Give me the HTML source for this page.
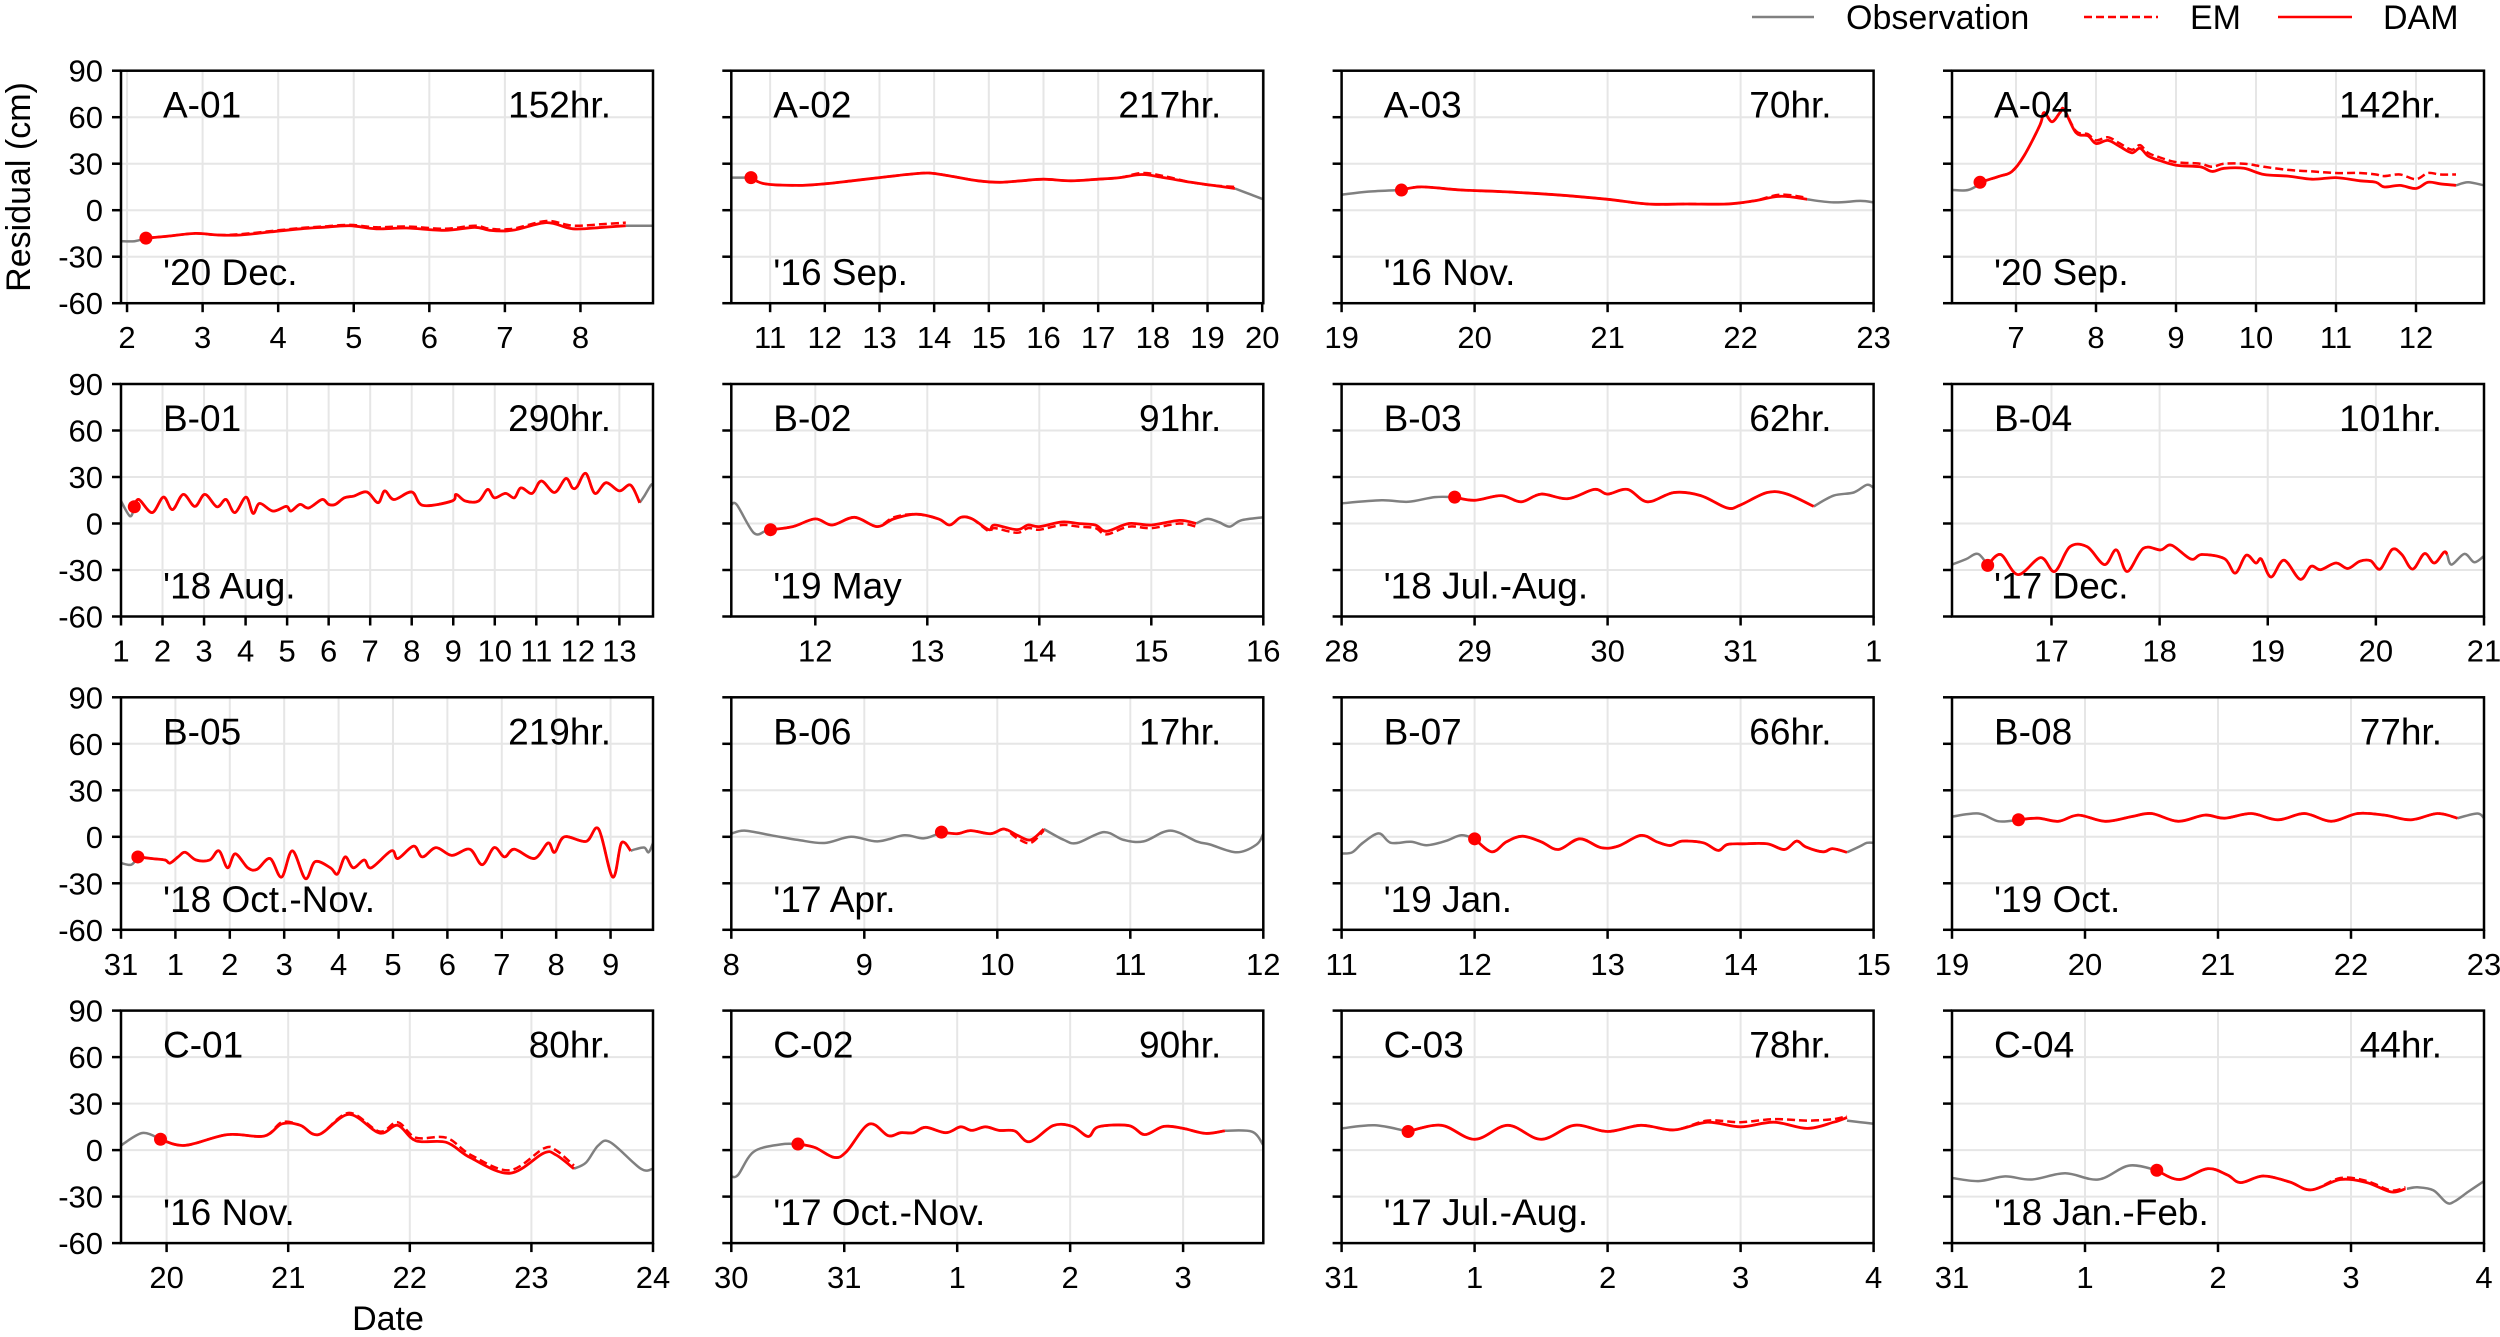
<!DOCTYPE html>
<html><head><meta charset="utf-8">
<style>
html,body{margin:0;padding:0;background:#fff;}
svg{display:block;font-family:"Liberation Sans","Noto Sans CJK KR",sans-serif;}
</style></head>
<body>
<svg id="fig" width="2500" height="1337" viewBox="0 0 2500 1337" xmlns="http://www.w3.org/2000/svg">
  <g>
    <line x1="1752" y1="17" x2="1814" y2="17" stroke="#808080" stroke-width="2.5"/>
    <text x="1846" y="29" font-size="34">Observation</text>
    <line x1="2084" y1="17" x2="2158" y2="17" stroke="#ff0000" stroke-width="2.5" stroke-dasharray="8,4"/>
    <text x="2190" y="29" font-size="34">EM</text>
    <line x1="2278" y1="17" x2="2352" y2="17" stroke="#ff0000" stroke-width="2.5"/>
    <text x="2383" y="29" font-size="34">DAM</text>
  </g>
  <text transform="translate(30,187) rotate(-90)" text-anchor="middle" font-size="34">Residual (cm)</text>
  <text x="388" y="1330" text-anchor="middle" font-size="34">Date</text>
</svg>
<script>
// ---------- data ----------
const panelNames = ["A-01","A-02","A-03","A-04","B-01","B-02","B-03","B-04","B-05","B-06","B-07","B-08","C-01","C-02","C-03","C-04"];
const hourLabels = ["152hr.","217hr.","70hr.","142hr.","290hr.","91hr.","62hr.","101hr.","219hr.","17hr.","66hr.","77hr.","80hr.","90hr.","78hr.","44hr."];
const periodLabels = ["'20 Dec.","'16 Sep.","'16 Nov.","'20 Sep.","'18 Aug.","'19 May","'18 Jul.-Aug.","'17 Dec.","'18 Oct.-Nov.","'17 Apr.","'19 Jan.","'19 Oct.","'16 Nov.","'17 Oct.-Nov.","'17 Jul.-Aug.","'18 Jan.-Feb."];
const xDomains = [[1.92,8.96],[10.29,20.02],[19,23],[6.2,12.85],[1,13.81],[11.25,16],[28,32],[16.08,21],[0,9.78],[8,12],[11,15],[19,23],[19.625,24],[0,4.71],[0,4],[0,4]];
const xTickValues = [[2,3,4,5,6,7,8],[11,12,13,14,15,16,17,18,19,20],[19,20,21,22,23],[7,8,9,10,11,12],[1,2,3,4,5,6,7,8,9,10,11,12,13],[12,13,14,15,16],[28,29,30,31,32],[17,18,19,20,21],[0,1,2,3,4,5,6,7,8,9],[8,9,10,11,12],[11,12,13,14,15],[19,20,21,22,23],[20,21,22,23,24],[0,1,2,3,4],[0,1,2,3,4],[0,1,2,3,4]];
const xTickLabels = [["2","3","4","5","6","7","8"],["11","12","13","14","15","16","17","18","19","20"],["19","20","21","22","23"],["7","8","9","10","11","12"],["1","2","3","4","5","6","7","8","9","10","11","12","13"],["12","13","14","15","16"],["28","29","30","31","1"],["17","18","19","20","21"],["31","1","2","3","4","5","6","7","8","9"],["8","9","10","11","12"],["11","12","13","14","15"],["19","20","21","22","23"],["20","21","22","23","24"],["30","31","1","2","3"],["31","1","2","3","4"],["31","1","2","3","4"]];
const yTickValues = [90,60,30,0,-30,-60];
const yTickLabels = ["90","60","30","0","-30","-60"];

const obsPre = [
 [[1.92,-20],[2.1,-20],[2.25,-18]],
 [[10.29,21],[10.5,21],[10.65,21]],
 [[19,10],[19.2,12],[19.45,13]],
 [[6.2,13],[6.4,13],[6.55,17]],
 [[1,14.5],[1.22,4.7],[1.32,10.8]],
 [[11.25,12],[11.3,12],[11.45,-6],[11.55,-5],[11.6,-4]],
 [[28,13],[28.3,15],[28.5,14],[28.7,17],[28.85,17]],
 [[16.08,-26.5],[16.21,-23],[16.32,-19.6],[16.41,-27]],
 [[0,-17],[0.19,-18],[0.31,-13]],
 [[8,2],[8.1,4],[8.3,1],[8.5,-2],[8.7,-4],[8.9,0],[9.1,-3],[9.3,1],[9.45,-1],[9.58,3]],
 [[11,-10.8],[11.08,-10],[11.16,-3.9],[11.28,2.2],[11.37,-3.9],[11.52,-3.2],[11.64,-5.4],[11.78,-2.8],[11.9,1],[12,-1.3]],
 [[19,13],[19.2,15],[19.35,10],[19.5,11]],
 [[19.625,3],[19.8,11],[19.95,7]],
 [[0,-17],[0.06,-16],[0.2,-1],[0.44,3.7],[0.59,3.9]],
 [[0,14],[0.25,16],[0.5,12]],
 [[0,-18],[0.2,-20],[0.4,-17],[0.6,-19],[0.85,-15],[1.1,-19],[1.33,-10],[1.54,-13]]
];
const obsPost = [
 [[8.6,-10],[8.75,-10],[8.96,-10]],
 [[19.5,14],[19.8,10],[20.02,7]],
 [[22.5,7],[22.7,5],[22.9,6],[23,5]],
 [[12.5,16],[12.65,18],[12.85,16]],
 [[13.49,13.4],[13.6,17.7],[13.76,24.8],[13.81,25]],
 [[15.4,0],[15.5,3],[15.6,1],[15.7,-2],[15.8,2],[16,4]],
 [[31.55,11],[31.7,18],[31.85,20],[31.95,25],[32,23]],
 [[20.66,-20],[20.7,-26.5],[20.82,-19.6],[20.91,-25],[21,-21]],
 [[9.37,-9],[9.46,-8],[9.62,-7],[9.7,-10],[9.78,-4]],
 [[10.35,5],[10.5,-2],[10.6,-4],[10.8,3],[10.95,-2],[11.1,-3],[11.3,4],[11.5,-3],[11.6,-5],[11.8,-10],[11.95,-5],[12,2]],
 [[14.8,-10],[14.9,-6],[14.95,-3.9],[15,-3.9]],
 [[22.8,12],[22.95,15],[23,12]],
 [[23.35,-12],[23.45,-8],[23.55,3],[23.65,5],[23.9,-12],[24,-12]],
 [[4.37,12.5],[4.61,11.9],[4.71,3.2]],
 [[3.8,19],[3.9,18],[4,17]],
 [[3.42,-25],[3.5,-24],[3.62,-26],[3.72,-34],[3.78,-33],[3.88,-27],[4,-20]]
];
const damSeries = [
 [[2.25,-18],[2.5,-17],[2.9,-15],[3.2,-16],[3.5,-16],[3.9,-14],[4.3,-12],[4.6,-11],[4.95,-10],[5.3,-12],[5.7,-11.5],[6.2,-13],[6.6,-11],[6.8,-13],[7.1,-13],[7.55,-8],[7.9,-12],[8.3,-11],[8.6,-10]],
 [[10.65,21],[10.9,17],[11.5,16],[12,17],[12.5,19],[13,21],[13.5,23],[13.9,24],[14.3,22],[14.8,19],[15.2,18],[15.6,19],[16,20],[16.5,19],[17,20],[17.4,21],[17.8,23],[18.2,21],[18.7,18],[19.1,16],[19.5,14]],
 [[19.45,13],[19.6,15],[19.9,13],[20.2,12],[20.6,10],[21,7],[21.3,4],[21.6,4],[21.9,4],[22.1,6],[22.3,9],[22.5,7]],
 [[6.55,18],[6.8,22],[6.95,25],[7.1,35],[7.3,55],[7.35,63],[7.45,57],[7.55,63],[7.6,65],[7.75,50],[7.9,48],[8.0,43],[8.15,45],[8.3,41],[8.45,37],[8.55,40],[8.65,35],[8.8,32],[9.0,29],[9.3,28],[9.45,25],[9.6,27],[9.85,27],[10.1,23],[10.4,22],[10.7,20],[11.0,21],[11.3,19],[11.5,18],[11.6,15],[11.8,16],[12.0,14],[12.15,18],[12.3,17],[12.5,16]],
 [[1.32,10.8],[1.43,15.5],[1.75,7],[2.02,17],[2.24,9],[2.5,18.8],[2.78,11],[3.02,18.8],[3.31,10.8],[3.53,15.5],[3.74,7],[4.01,17],[4.18,6.5],[4.34,13],[4.66,8],[4.98,11],[5.09,8],[5.31,12.3],[5.52,10],[5.84,15.5],[6.0,12.3],[6.16,12.3],[6.38,16.6],[6.6,17.7],[6.92,20.3],[7.19,13.4],[7.35,21],[7.57,15.5],[8.0,20.3],[8.27,11.7],[8.97,14.5],[9.07,18.8],[9.29,14.5],[9.61,14.5],[9.83,22],[9.99,16.6],[10.26,19.4],[10.47,16.6],[10.63,23],[10.9,19.4],[11.12,27.4],[11.44,20],[11.71,29],[11.87,23],[11.98,23.7],[12.19,32.4],[12.41,19.4],[12.68,26.3],[13.0,21],[13.27,24.8],[13.49,13.4]],
 [[11.6,-4],[11.8,-2],[12,3],[12.15,-1],[12.35,4],[12.55,-2],[12.7,3],[12.9,6],[13.1,3],[13.2,-1],[13.3,4],[13.4,3],[13.55,-4],[13.6,-1],[13.8,-4],[13.9,-1],[14.0,-2],[14.2,1],[14.35,0],[14.5,-1],[14.6,-5],[14.8,0],[15,-1],[15.25,2],[15.4,0]],
 [[28.85,17],[29,15],[29.2,18],[29.35,14],[29.5,19],[29.7,16],[29.9,22],[30.0,19],[30.15,22],[30.3,14],[30.5,20],[30.7,18],[30.9,10],[31.0,12],[31.2,20],[31.35,19],[31.55,11]],
 [[16.41,-27],[16.53,-20],[16.69,-33],[16.9,-22],[17.03,-31],[17.17,-15],[17.33,-15],[17.49,-26.5],[17.6,-17],[17.7,-31],[17.85,-16],[18.01,-17],[18.11,-14],[18.29,-23],[18.39,-20],[18.6,-22.7],[18.7,-32],[18.8,-20.5],[18.89,-25.5],[18.94,-23],[19.03,-34.5],[19.15,-23.7],[19.3,-36],[19.4,-27.6],[19.49,-29.8],[19.63,-25.5],[19.74,-29],[19.85,-24.4],[19.95,-24],[20.04,-29.4],[20.15,-16.8],[20.24,-20],[20.34,-29.4],[20.45,-19.4],[20.54,-25.5],[20.63,-18.5],[20.66,-20]],
 [[0.31,-13],[0.56,-14],[0.81,-15],[0.9,-17],[1.05,-13],[1.18,-10],[1.38,-15],[1.63,-15],[1.8,-9],[1.96,-20],[2.1,-11],[2.33,-20],[2.5,-21],[2.74,-14],[2.95,-26],[3.15,-9],[3.39,-27],[3.57,-16],[3.85,-20],[3.98,-24],[4.12,-13],[4.27,-20],[4.47,-15],[4.6,-20],[4.97,-9],[5.09,-14],[5.38,-6],[5.54,-13],[5.79,-7],[6.08,-12],[6.41,-8],[6.64,-18],[6.86,-7],[7.05,-13],[7.23,-8],[7.6,-14],[7.85,-4],[7.97,-10],[8.15,0],[8.55,-3],[8.78,5],[9.04,-26],[9.2,-4],[9.37,-9]],
 [[9.58,3],[9.7,2],[9.8,4],[9.95,2],[10.05,5],[10.15,1],[10.25,-2],[10.35,5]],
 [[12,-1.3],[12.13,-9.7],[12.24,-3.2],[12.36,0.4],[12.5,-3.2],[12.63,-8.2],[12.79,-1.3],[12.95,-7],[13.08,-6],[13.25,0.9],[13.37,-3.2],[13.47,-5.6],[13.56,-2.8],[13.72,-3.9],[13.83,-8.8],[13.9,-5],[14.03,-4.5],[14.2,-4.5],[14.33,-8.2],[14.42,-2.8],[14.49,-6.5],[14.62,-9.7],[14.69,-7.6],[14.8,-10]],
 [[19.5,11],[19.65,12],[19.8,10],[19.95,14],[20.15,10],[20.35,13],[20.5,15],[20.7,10],[20.9,14],[21.05,12],[21.25,15],[21.45,11],[21.65,15],[21.85,10],[22.05,15],[22.25,14],[22.45,11],[22.65,15],[22.8,12]],
 [[19.95,7],[20.15,3],[20.5,10],[20.8,9],[20.95,17],[21.1,16],[21.25,10],[21.5,23],[21.75,11],[21.9,16],[22.05,6],[22.3,5],[22.5,-5],[22.82,-15],[23.1,-2],[23.2,-3],[23.35,-12]],
 [[0.59,3.9],[0.74,1.7],[0.91,-4.7],[1.02,-1],[1.22,16.8],[1.39,9.3],[1.5,11.2],[1.61,11.2],[1.72,14.7],[1.9,11.2],[2.03,15],[2.13,12.7],[2.25,15],[2.37,12.7],[2.51,12.3],[2.64,5.4],[2.85,15.8],[3.02,15.3],[3.16,8.8],[3.25,15],[3.52,15.8],[3.66,10],[3.83,15.3],[4.0,14],[4.2,10.8],[4.37,12.5]],
 [[0.5,12],[0.75,16],[1,7],[1.25,16],[1.5,7],[1.75,16],[2,12],[2.25,16],[2.5,13],[2.75,18],[3,15],[3.25,18],[3.5,14],[3.7,18],[3.8,21]],
 [[1.54,-13],[1.71,-19],[1.92,-12],[2.07,-16],[2.17,-21],[2.34,-16.7],[2.54,-20.6],[2.7,-25.7],[2.92,-19],[3.12,-21],[3.3,-27],[3.41,-25]]
];
const emSeries = [
 [[2.25,-18],[2.5,-17],[2.9,-15],[3.2,-16],[3.5,-15.5],[3.9,-13.5],[4.3,-11.5],[4.6,-10.5],[4.95,-9.5],[5.3,-11],[5.7,-10.5],[6.2,-12],[6.6,-10],[6.8,-12],[7.1,-12],[7.55,-7],[7.9,-10],[8.3,-9],[8.6,-8]],
 [[10.65,21],[10.9,17],[11.5,16],[12,17],[12.5,19],[13,21],[13.5,23],[13.9,24],[14.3,22],[14.8,19],[15.2,18],[15.6,19],[16,20],[16.5,19],[17,20],[17.4,21],[17.8,24],[18.2,22],[18.7,18],[19.1,16],[19.5,15]],
 [[19.45,13],[19.6,15],[19.9,13],[20.2,12],[20.6,10],[21,7],[21.3,4],[21.6,4],[21.9,4],[22.1,6],[22.3,10],[22.5,8]],
 [[6.55,18],[6.8,22],[6.95,25],[7.1,35],[7.3,55],[7.35,63],[7.45,57],[7.55,63],[7.6,65],[7.75,51],[7.9,49],[8.0,45],[8.15,47],[8.3,43],[8.45,39],[8.55,42],[8.65,37],[8.8,34],[9.0,31],[9.3,30],[9.45,28],[9.6,30],[9.85,30],[10.1,28],[10.4,26],[10.7,25],[11.0,24],[11.3,24],[11.5,23],[11.6,22],[11.8,23],[12.0,20],[12.15,24],[12.3,23],[12.5,23]],
 [[1.32,10.8],[1.43,15.5],[1.75,7],[2.02,17],[2.24,9],[2.5,18.8],[2.78,11],[3.02,18.8],[3.31,10.8],[3.53,15.5],[3.74,7],[4.01,17],[4.18,6.5],[4.34,13],[4.66,8],[4.98,11],[5.09,8],[5.31,12.3],[5.52,10],[5.84,15.5],[6.0,12.3],[6.16,12.3],[6.38,16.6],[6.6,17.7],[6.92,20.3],[7.19,13.4],[7.35,21],[7.57,15.5],[8.0,20.3],[8.27,11.7],[8.97,14.5],[9.07,18.8],[9.29,14.5],[9.61,14.5],[9.83,22],[9.99,16.6],[10.26,19.4],[10.47,16.6],[10.63,23],[10.9,19.4],[11.12,27.4],[11.44,20],[11.71,29],[11.87,23],[11.98,23.7],[12.19,32.4],[12.41,19.4],[12.68,26.3],[13.0,21],[13.27,24.8],[13.49,13.4]],
 [[11.6,-4],[11.8,-2],[12,3],[12.15,-1],[12.35,4],[12.55,-2],[12.7,4],[12.9,6],[13.1,3],[13.2,-1],[13.3,4],[13.4,3],[13.55,-5],[13.6,-3],[13.8,-6],[13.9,-3],[14.0,-4],[14.2,-1],[14.35,-2],[14.5,-3],[14.6,-7],[14.8,-2],[15,-3],[15.25,0],[15.4,-2]],
 [[28.85,17],[29,15],[29.2,18],[29.35,14],[29.5,19],[29.7,16],[29.9,22],[30.0,19],[30.15,22],[30.3,14],[30.5,20],[30.7,18],[30.9,10],[31.0,12],[31.2,20],[31.35,19],[31.55,11]],
 [[16.41,-27],[16.53,-20],[16.69,-33],[16.9,-22],[17.03,-31],[17.17,-15],[17.33,-15],[17.49,-26.5],[17.6,-17],[17.7,-31],[17.85,-16],[18.01,-17],[18.11,-14],[18.29,-23],[18.39,-20],[18.6,-22.7],[18.7,-32],[18.8,-20.5],[18.89,-25.5],[18.94,-23],[19.03,-34.5],[19.15,-23.7],[19.3,-36],[19.4,-27.6],[19.49,-29.8],[19.63,-25.5],[19.74,-29],[19.85,-24.4],[19.95,-24],[20.04,-29.4],[20.15,-16.8],[20.24,-20],[20.34,-29.4],[20.45,-19.4],[20.54,-25.5],[20.63,-18.5],[20.66,-20]],
 [[0.31,-13],[0.56,-14],[0.81,-15],[0.9,-17],[1.05,-13],[1.18,-10],[1.38,-15],[1.63,-15],[1.8,-9],[1.96,-20],[2.1,-11],[2.33,-20],[2.5,-21],[2.74,-14],[2.95,-26],[3.15,-9],[3.39,-27],[3.57,-16],[3.85,-20],[3.98,-24],[4.12,-13],[4.27,-20],[4.47,-15],[4.6,-20],[4.97,-9],[5.09,-14],[5.38,-6],[5.54,-13],[5.79,-7],[6.08,-12],[6.41,-8],[6.64,-18],[6.86,-7],[7.05,-13],[7.23,-8],[7.6,-14],[7.85,-4],[7.97,-10],[8.15,0],[8.55,-3],[8.78,5],[9.04,-26],[9.2,-4],[9.37,-9]],
 [[9.58,3],[9.7,2],[9.8,4],[9.95,2],[10.05,5],[10.15,-1],[10.25,-4],[10.35,4]],
 [[12,-1.3],[12.13,-9.7],[12.24,-3.2],[12.36,0.4],[12.5,-3.2],[12.63,-8.2],[12.79,-1.3],[12.95,-7],[13.08,-6],[13.25,0.9],[13.37,-3.2],[13.47,-5.6],[13.56,-2.8],[13.72,-3.9],[13.83,-8.8],[13.9,-5],[14.03,-4.5],[14.2,-4.5],[14.33,-8.2],[14.42,-2.8],[14.49,-6.5],[14.62,-9.7],[14.69,-7.6],[14.8,-10]],
 [[19.5,11],[19.65,12],[19.8,10],[19.95,14],[20.15,10],[20.35,13],[20.5,15],[20.7,10],[20.9,14],[21.05,12],[21.25,15],[21.45,11],[21.65,15],[21.85,10],[22.05,15],[22.25,14],[22.45,11],[22.65,15],[22.8,12]],
 [[19.95,7],[20.15,3],[20.5,10],[20.8,9],[20.95,18],[21.1,16],[21.25,10],[21.5,24],[21.75,12],[21.9,18],[22.05,8],[22.3,8],[22.5,-3],[22.82,-13],[23.1,1],[23.2,0],[23.35,-10]],
 [[0.59,3.9],[0.74,1.7],[0.91,-4.7],[1.02,-1],[1.22,16.8],[1.39,9.3],[1.5,11.2],[1.61,11.2],[1.72,14.7],[1.9,11.2],[2.03,15],[2.13,12.7],[2.25,15],[2.37,12.7],[2.51,12.3],[2.64,5.4],[2.85,15.8],[3.02,15.3],[3.16,8.8],[3.25,15],[3.52,15.8],[3.66,10],[3.83,15.3],[4.0,14],[4.2,10.8],[4.37,12.5]],
 [[0.5,12],[0.75,16],[1,7],[1.25,16],[1.5,7],[1.75,16],[2,12],[2.25,16],[2.5,13],[2.75,19],[3,18],[3.25,20],[3.5,19],[3.7,20],[3.8,22]],
 [[1.54,-13],[1.71,-19],[1.92,-12],[2.07,-16],[2.17,-21],[2.34,-16.7],[2.54,-20.6],[2.7,-25.7],[2.92,-18],[3.12,-20],[3.3,-26],[3.41,-24]]
];

// ---------- layout ----------
const NS = "http://www.w3.org/2000/svg";
const svg = document.getElementById('fig');
const colLeft = [121, 731.3, 1341.6, 1952];
const rowTop = [70.7, 384, 697.3, 1010.6];
const PW = 532, PH = 232.5;
const Y0 = -60, Y1 = 90;

function mk(tag, attrs, parent) {
  const e = document.createElementNS(NS, tag);
  for (const k in attrs) e.setAttribute(k, attrs[k]);
  (parent || svg).appendChild(e);
  return e;
}
// smooth Catmull-Rom path
function pathFrom(pts, sx, sy) {
  const P = pts.map(p => [sx(p[0]), sy(p[1])]);
  if (P.length < 2) return '';
  let d = 'M' + P[0][0].toFixed(1) + ',' + P[0][1].toFixed(1);
  for (let i = 0; i < P.length - 1; i++) {
    const p0 = P[i - 1] || P[i], p1 = P[i], p2 = P[i + 1], p3 = P[i + 2] || P[i + 1];
    const c1x = p1[0] + (p2[0] - p0[0]) / 6, c1y = p1[1] + (p2[1] - p0[1]) / 6;
    const c2x = p2[0] - (p3[0] - p1[0]) / 6, c2y = p2[1] - (p3[1] - p1[1]) / 6;
    d += ' C' + c1x.toFixed(1) + ',' + c1y.toFixed(1) + ' ' + c2x.toFixed(1) + ',' + c2y.toFixed(1) + ' ' + p2[0].toFixed(1) + ',' + p2[1].toFixed(1);
  }
  return d;
}

panelNames.forEach((name, i) => {
  const col = i % 4, row = Math.floor(i / 4);
  const L = colLeft[col], T = rowTop[row], R = L + PW, B = T + PH;
  const [d0, d1] = xDomains[i];
  const sx = v => L + (v - d0) / (d1 - d0) * PW;
  const sy = v => B - (v - Y0) / (Y1 - Y0) * PH;
  const g = mk('g', {});
  
  

  yTickValues.forEach(v => {
    const ln = mk('line', {x1: L, x2: R, y1: sy(v), y2: sy(v), stroke: '#e6e6e6', 'stroke-width': 2}, g);
    
    
  });
  xTickValues[i].forEach(v => {
    const ln = mk('line', {x1: sx(v), x2: sx(v), y1: T, y2: B, stroke: '#e6e6e6', 'stroke-width': 2}, g);
    
    
  });

  const clipId = 'clip' + i;
  const cp = mk('clipPath', {id: clipId}, g);
  mk('rect', {x: L, y: T, width: PW, height: PH}, cp);
  const sg = mk('g', {'clip-path': 'url(#' + clipId + ')'}, g);
  [obsPre[i], obsPost[i]].forEach((seg, k) => {
    const p = mk('path', {d: pathFrom(seg, sx, sy), fill: 'none', stroke: '#808080', 'stroke-width': 2.5, 'stroke-linejoin': 'round'}, sg);
    
    
  });
  const em = mk('path', {d: pathFrom(emSeries[i], sx, sy), fill: 'none', stroke: '#ff0000', 'stroke-width': 2.5, 'stroke-dasharray': '8,4'}, sg);
  
  
  const dam = mk('path', {d: pathFrom(damSeries[i], sx, sy), fill: 'none', stroke: '#ff0000', 'stroke-width': 2.8, 'stroke-linejoin': 'round'}, sg);
  
  
  const st = damSeries[i][0];
  const dot = mk('circle', {cx: sx(st[0]), cy: sy(st[1]), r: 6.5, fill: '#ff0000'}, sg);
  
  

  const fr = mk('rect', {x: L, y: T, width: PW, height: PH, fill: 'none', stroke: '#000', 'stroke-width': 2.5}, g);
  
  

  yTickValues.forEach((v, k) => {
    const t = mk('line', {x1: L - 9, x2: L, y1: sy(v), y2: sy(v), stroke: '#000', 'stroke-width': 2.5}, g);
    
    
    if (col === 0) {
      const tx = mk('text', {x: L - 18, y: sy(v) + 11, 'text-anchor': 'end', 'font-size': 31}, g);
      tx.textContent = yTickLabels[k];
      
      
    }
  });
  xTickValues[i].forEach((v, k) => {
    const t = mk('line', {x1: sx(v), x2: sx(v), y1: B, y2: B + 9, stroke: '#000', 'stroke-width': 2.5}, g);
    
    
    const tx = mk('text', {x: sx(v), y: B + 45, 'text-anchor': 'middle', 'font-size': 31}, g);
    tx.textContent = xTickLabels[i][k];
    
    
  });

  const nm = mk('text', {x: L + 42, y: T + 47, 'font-size': 37}, g);
  nm.textContent = name;
  
  
  const hr = mk('text', {x: R - 42, y: T + 47, 'text-anchor': 'end', 'font-size': 37}, g);
  hr.textContent = hourLabels[i];
  
  
  const pd = mk('text', {x: L + 42, y: B - 18, 'font-size': 37}, g);
  pd.textContent = periodLabels[i];
  
  
});
</script>
</body></html>
